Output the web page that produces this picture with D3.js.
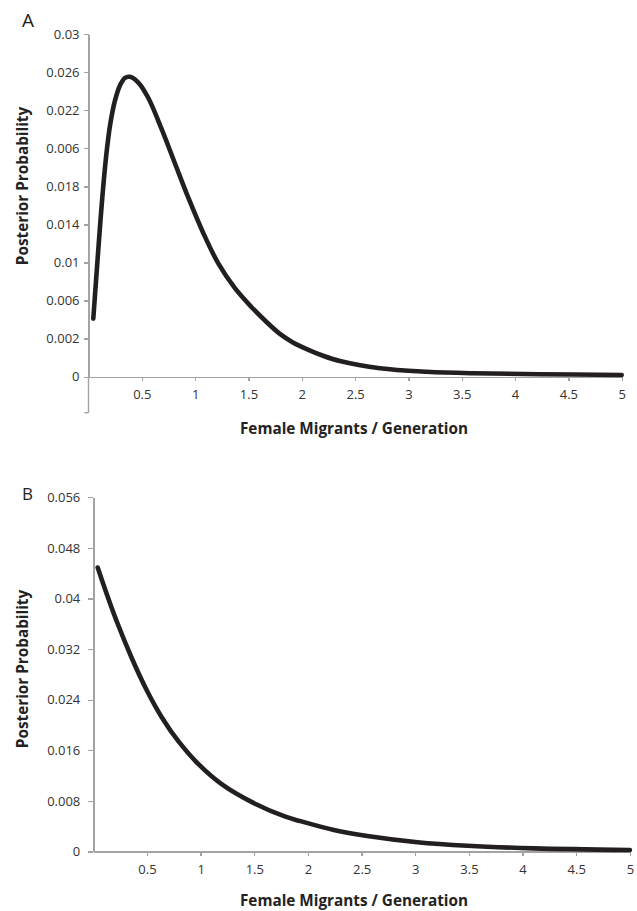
<html>
<head>
<meta charset="utf-8">
<script src="https://d3js.org/d3.v7.min.js"></script>
<style>
  body { margin: 0; background: #fff; }
  .tick text { font-family: "Open Sans", sans-serif; font-size: 13px; fill: #333; }
  .axis path, .axis line { stroke: #a3a3a3; stroke-width: 1.4; shape-rendering: crispEdges; }
  .title { font-family: "Open Sans", sans-serif; font-weight: bold; font-size: 15.3px; fill: #222; }
  .panel { font-family: "Open Sans", sans-serif; fill: #222; }
</style>
</head>
<body>
<script>

    // x axis, shared by both panels
    var xTicks = [0.5, 1, 1.5, 2, 2.5, 3, 3.5, 4, 4.5, 5];
    var xTickLabels = ["0.5", "1", "1.5", "2", "2.5", "3", "3.5", "4", "4.5", "5"];

    //-------------------------panel A-------------------------
    // tick values (one label in the original reads 0.006 where 0.02 sits)
    var yTicksA = [0, 0.002, 0.006, 0.01, 0.014, 0.018, 0.02, 0.022, 0.026, 0.03];
    var yTickLabelsA = ["0", "0.002", "0.006", "0.01", "0.014", "0.018", "0.006", "0.022", "0.026", "0.03"];
    var migrantsA = [0.045, 0.070, 0.098, 0.130, 0.164, 0.202, 0.248, 0.295, 0.342, 0.389, 0.467, 0.56, 0.686, 0.811, 0.936,
                     1.076, 1.217, 1.373, 1.53, 1.655, 1.795, 1.917, 2.046, 2.2, 2.358, 2.733, 3.171, 3.607, 4.233, 5.0];
    var probA = [0.0041, 0.0080, 0.0123, 0.0169, 0.0195, 0.0212, 0.0230, 0.0246, 0.0254, 0.0255, 0.0249, 0.0233, 0.0210, 0.0192, 0.0168,
                 0.0131, 0.0099, 0.0073, 0.0053, 0.0039, 0.0025, 0.0018, 0.00145, 0.0011, 0.00082, 0.00044, 0.00026, 0.00018, 0.00013, 0.00009];

    //-------------------------panel B-------------------------
    var yTicksB = [0, 0.008, 0.016, 0.024, 0.032, 0.04, 0.048, 0.056];
    var yTickLabelsB = ["0", "0.008", "0.016", "0.024", "0.032", "0.04", "0.048", "0.056"];
    var migrantsB = [0.041, 0.109, 0.218, 0.358, 0.498, 0.639, 0.794, 0.98, 1.199, 1.478, 1.79, 1.93,
                     2.241, 2.553, 3.02, 3.486, 4.108, 5.0];
    var probB = [0.0449, 0.0415, 0.0364, 0.0306, 0.0255, 0.0212, 0.0174, 0.0138, 0.0106, 0.0078, 0.0055, 0.0048,
                 0.0034, 0.00245, 0.00147, 0.00091, 0.0005, 0.00024];

    var svg = d3.select("body").append("svg")
        .attr("width", 637)
        .attr("height", 911);

    function drawPanel(p) {
        var g = svg.append("g");

        var x = d3.scaleLinear().domain([0, 5]).range([p.left, p.right]);
        // evenly spaced ticks, piecewise between tick values
        var step = (p.bottom - p.top) / (p.yTicks.length - 1);
        var y = d3.scaleLinear()
            .domain(p.yTicks)
            .range(p.yTicks.map(function (d, i) { return p.bottom - i * step; }));

        g.append("g")
            .attr("class", "axis")
            .attr("transform", "translate(" + p.left + ",0)")
            .call(d3.axisLeft(y).tickValues(p.yTicks)
                .tickFormat(function (d, i) { return p.yLabels[i]; })
                .tickSize(5).tickSizeOuter(0).tickPadding(p.yPad));

        g.append("g")
            .attr("class", "axis")
            .attr("transform", "translate(0," + p.bottom + ")")
            .call(d3.axisBottom(x).tickValues(xTicks)
                .tickFormat(function (d, i) { return xTickLabels[i]; })
                .tickSize(4.5).tickSizeOuter(0).tickPadding(9));

        if (p.extend) {
            // value axis runs on below the category axis
            g.append("line")
                .attr("x1", p.left).attr("x2", p.left)
                .attr("y1", p.bottom).attr("y2", p.bottom + p.extend)
                .attr("stroke", "#a3a3a3").attr("stroke-width", 1.4);
            g.append("line")
                .attr("x1", p.left - 4).attr("x2", p.left)
                .attr("y1", p.bottom + p.extend).attr("y2", p.bottom + p.extend)
                .attr("stroke", "#a3a3a3").attr("stroke-width", 1.4);
        }

        var line = d3.line()
            .x(function (d, i) { return x(p.xs[i]); })
            .y(function (d) { return y(d); })
            .curve(d3.curveCatmullRom.alpha(0.5));

        g.append("path")
            .datum(p.ys)
            .attr("d", line)
            .attr("fill", "none")
            .attr("stroke", "#231f20")
            .attr("stroke-width", 4.6)
            .attr("stroke-linecap", "round")
            .attr("stroke-linejoin", "round");

        g.append("text")
            .attr("class", "title")
            .attr("x", 354)
            .attr("y", p.xTitleY)
            .attr("text-anchor", "middle")
            .text("Female Migrants / Generation");

        g.append("text")
            .attr("class", "title")
            .attr("transform", "translate(28," + p.yTitleMid + ") rotate(-90)")
            .attr("text-anchor", "middle")
            .text("Posterior Probability");

        g.append("text")
            .attr("class", "panel")
            .attr("x", 22)
            .attr("y", p.letterY)
            .attr("font-size", p.letterSize)
            .text(p.letter);
    }

    drawPanel({
        left: 88.5, right: 621.7, top: 34, bottom: 376.7,
        yTicks: yTicksA, yLabels: yTickLabelsA, yPad: 4,
        xs: migrantsA, ys: probA, extend: 36,
        xTitleY: 434, yTitleMid: 186, letter: "A", letterY: 27, letterSize: "19px"
    });

    drawPanel({
        left: 93.3, right: 629.9, top: 497.3, bottom: 851.5,
        yTicks: yTicksB, yLabels: yTickLabelsB, yPad: 8,
        xs: migrantsB, ys: probB, extend: 0,
        xTitleY: 906, yTitleMid: 669, letter: "B", letterY: 500, letterSize: "17px"
    });

</script>
</body>
</html>
